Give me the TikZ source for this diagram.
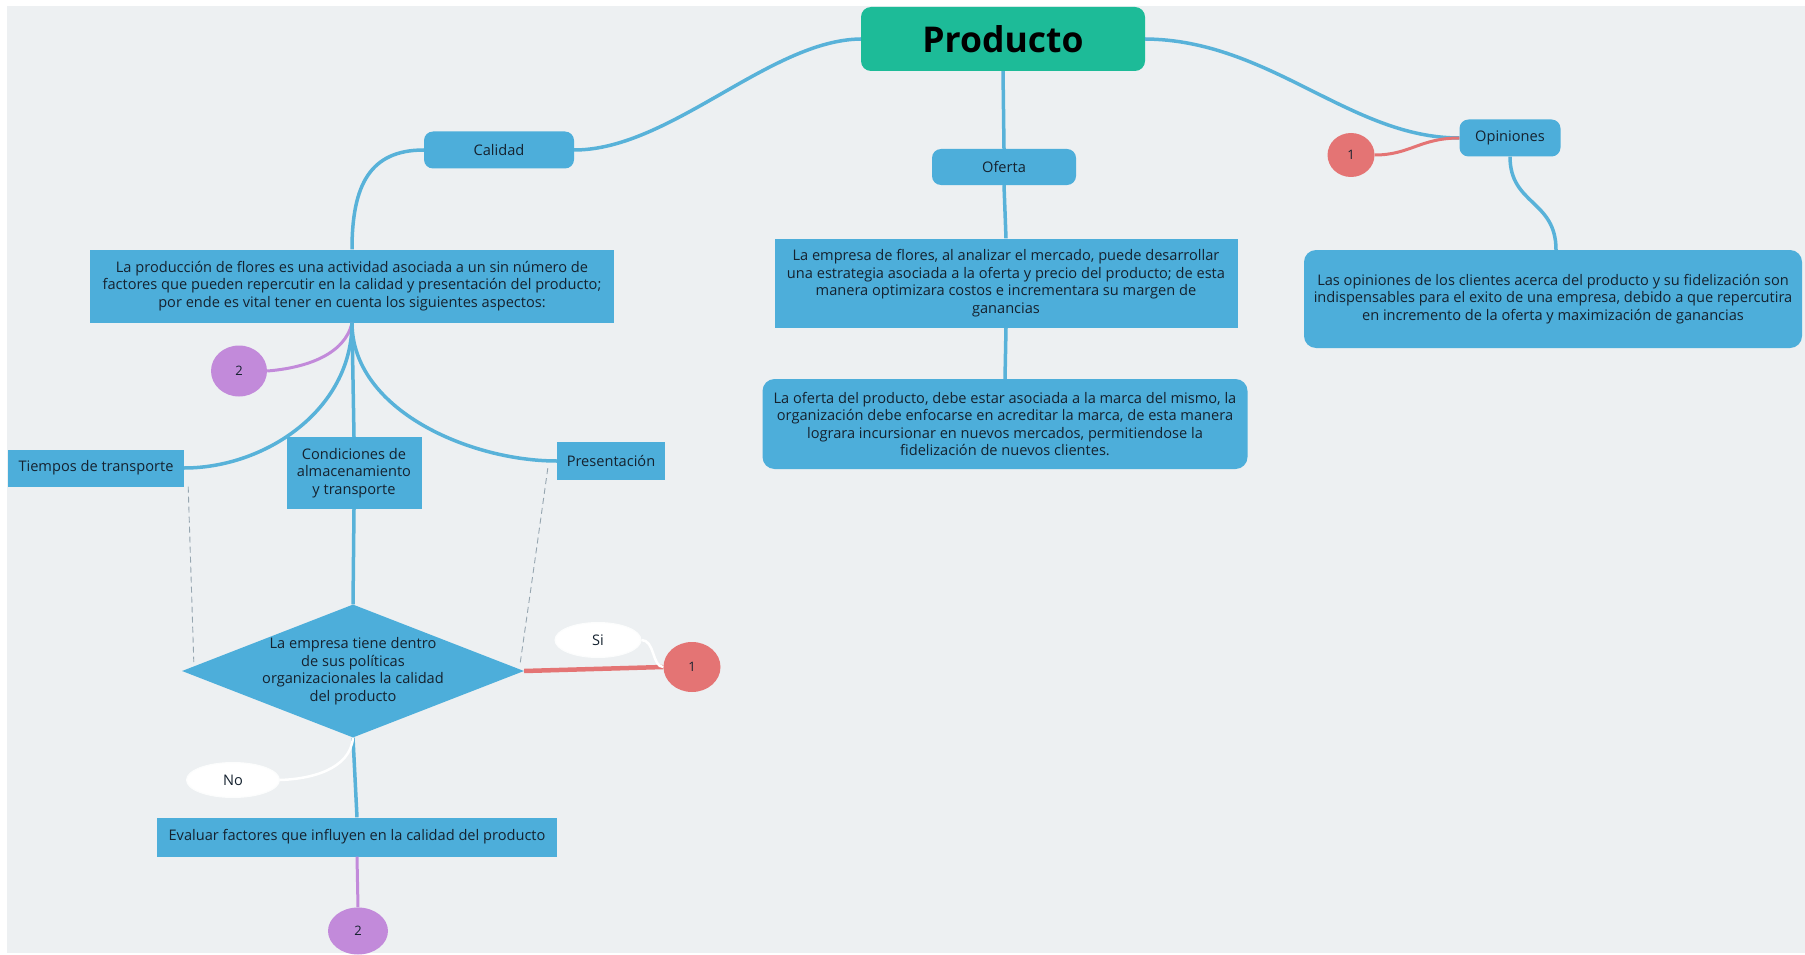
\documentclass[tikz,border=0pt]{standalone}
\usepackage{fontspec}
\setmainfont{Open Sans}
\usetikzlibrary{shapes.geometric,calc}
\definecolor{bgcolor}{HTML}{EDF0F2}
\definecolor{topiccolor}{HTML}{1DBB98}
\definecolor{boxcolor}{HTML}{4DAEDA}
\definecolor{linecolor}{HTML}{58B2D9}
\definecolor{redcolor}{HTML}{E47474}
\definecolor{purplecolor}{HTML}{C28ADA}
\definecolor{guidecolor}{HTML}{96A6B0}
\definecolor{textcolor}{HTML}{15222F}

\begin{document}
\begin{tikzpicture}[x=1pt,y=-1pt,
    every node/.style={text=textcolor, font=\fontsize{14.6}{17.5}\selectfont, align=center, inner sep=0pt},
    topicbox/.style={fill=topiccolor, rounded corners=10pt, text=black,
      font=\fontsize{35.5}{40}\selectfont\bfseries},
    pill/.style={fill=boxcolor, rounded corners=9pt},
    plainbox/.style={fill=boxcolor},
    roundbox/.style={fill=boxcolor, rounded corners=12pt},
    bubble/.style={ellipse, font=\fontsize{13}{14}\selectfont},
    answer/.style={ellipse, fill=white, draw=white!85!bgcolor, line width=1pt},
    branch/.style={draw=linecolor, line width=3.5pt},
    redlink/.style={draw=redcolor, line width=3pt},
    purplelink/.style={draw=purplecolor, line width=3pt},
    whitelink/.style={draw=white, line width=2.5pt},
    guide/.style={draw=guidecolor, dash pattern=on 6pt off 4pt, line width=0.9pt}]
  \useasboundingbox (0,0) rectangle (1805,955);
  \fill[white] (0,0) rectangle (1805,955);
  \fill[bgcolor] (7,6) rectangle (1805,953);

  \node[topicbox, minimum width=284pt, minimum height=64pt] (producto) at (1003,39) {Producto};

  \node[pill, minimum width=150pt, minimum height=37pt] (calidad) at (499,150) {Calidad};
  \node[pill, minimum width=144pt, minimum height=36pt] (oferta) at (1004,167) {Oferta};
  \node[pill, minimum width=101pt, minimum height=37pt] (opiniones) at (1510,138) {Opiniones};

  \node[bubble, fill=redcolor, minimum width=47pt, minimum height=44pt] (unoa) at (1351,155) {1};
  \node[roundbox, minimum width=498pt, minimum height=98pt] (opinionestxt) at (1553,299)
    {Las opiniones de los clientes acerca del producto y su fidelización son\\
     indispensables para el exito de una empresa, debido a que repercutira\\
     en incremento de la oferta y maximización de ganancias};

  \node[plainbox, minimum width=463pt, minimum height=89pt] (ofertatxt) at (1006,283)
    {La empresa de flores, al analizar el mercado, puede desarrollar\\
     una estrategia asociada a la oferta y precio del producto; de esta\\
     manera optimizara costos e incrementara su margen de\\
     ganancias};
  \node[roundbox, minimum width=485pt, minimum height=90pt] (marcatxt) at (1005,424)
    {La oferta del producto, debe estar asociada a la marca del mismo, la\\
     organización debe enfocarse en acreditar la marca, de esta manera\\
     lograra incursionar en nuevos mercados, permitiendose la\\
     fidelización de nuevos clientes.};

  \node[plainbox, minimum width=524pt, minimum height=73pt] (calidadtxt) at (352,286)
    {La producción de flores es una actividad asociada a un sin número de\\
     factores que pueden repercutir en la calidad y presentación del producto;\\
     por ende es vital tener en cuenta los siguientes aspectos:};
  \node[bubble, fill=purplecolor, minimum width=56pt, minimum height=51pt] (dosa) at (239,371) {2};

  \node[plainbox, minimum width=176pt, minimum height=37pt] (tiempos) at (96,468) {Tiempos de transporte};
  \node[plainbox, minimum width=135pt, minimum height=72pt] (condiciones) at (354,473)
    {Condiciones de\\ almacenamiento\\ y transporte};
  \node[plainbox, minimum width=108pt, minimum height=38pt] (presentacion) at (611,461) {Presentación};

  \node[diamond, fill=boxcolor, aspect=2.57, inner sep=-4pt, minimum width=342pt, minimum height=133pt] (politicas) at (353,671)
    {La empresa tiene dentro\\ de sus políticas\\ organizacionales la calidad\\ del producto};
  \node[answer, minimum width=86pt, minimum height=35pt] (si) at (598,640) {Si};
  \node[bubble, fill=redcolor, minimum width=57pt, minimum height=50pt] (unob) at (692,667) {1};
  \node[answer, minimum width=93pt, minimum height=35pt] (no) at (233,780) {No};

  \node[plainbox, minimum width=400pt, minimum height=39pt] (evaluar) at (357,837)
    {Evaluar factores que influyen en la calidad del producto};
  \node[bubble, fill=purplecolor, minimum width=60pt, minimum height=47pt] (dosb) at (358,931) {2};

  \draw[branch] (producto.west) .. controls (770,40) and (670,150) .. (calidad.east);
  \draw[branch] (producto.south) -- (oferta.north);
  \draw[branch] (producto.east) .. controls (1270,40) and (1350,138) .. (opiniones.west);
  \draw[redlink] (opiniones.west) .. controls (1420,138) and (1410,155) .. (unoa.east);
  \draw[branch] (opiniones.south) .. controls (1510,205) and (1556,200) .. ([xshift=3pt]opinionestxt.north);
  \draw[branch] (oferta.south) -- (ofertatxt.north);
  \draw[branch] (ofertatxt.south) -- (marcatxt.north);

  \draw[branch] (calidad.west) .. controls (370,150) and (352,185) .. (calidadtxt.north);
  \draw[purplelink] (calidadtxt.south) .. controls (345,355) and (305,368) .. (dosa.east);
  \draw[branch] (calidadtxt.south) .. controls (352,410) and (265,468) .. (tiempos.east);
  \draw[branch] (calidadtxt.south) -- (condiciones.north);
  \draw[branch] (calidadtxt.south) .. controls (352,410) and (470,461) .. (presentacion.west);
  \draw[guide] ($(tiempos.south east)+(4,0)$) -- ($(politicas.west)+(12,-9)$);
  \draw[guide] ($(presentacion.south west)+(-9,-12)$) .. controls (535,560) .. ($(politicas.east)+(-4,-8)$);
  \draw[branch] (condiciones.south) -- (politicas.north);

  \draw[redlink, line width=4.5pt] (politicas.east) -- (unob.west);
  \draw[whitelink] (si.east) .. controls (655,640) and (652,667) .. (unob.west);
  \draw[branch] (politicas.south) -- (evaluar.north);
  \draw[whitelink] (politicas.south) .. controls (350,770) and (310,779) .. (no.east);
  \draw[purplelink] (evaluar.south) -- (dosb.north);
\end{tikzpicture}
\end{document}
